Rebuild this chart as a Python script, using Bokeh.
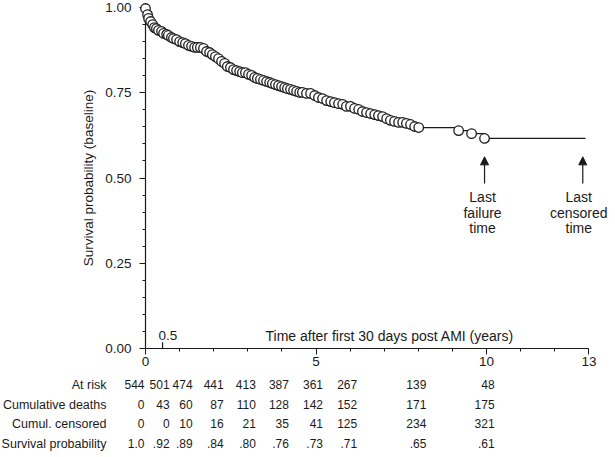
from bokeh.plotting import figure
from bokeh.models import (Range1d, FixedTicker, PrintfTickFormatter, Label,
                          ColumnDataSource, Arrow, NormalHead)
from bokeh.core.properties import value
from bokeh.embed import file_html
from bokeh.resources import INLINE

# ---------------- data ----------------
surv_t = [0.00, 0.06, 0.09, 0.15, 0.21, 0.26, 0.32, 0.38, 0.47, 0.53,
          0.62, 0.67, 0.76, 0.82, 0.91, 1.00, 1.09, 1.17, 1.26, 1.35,
          1.44, 1.52, 1.61, 1.70, 1.79, 1.88, 1.96, 2.05, 2.14, 2.23,
          2.32, 2.40, 2.49, 2.58, 2.67, 2.76, 2.84, 2.93, 3.02, 3.11,
          3.20, 3.28, 3.37, 3.46, 3.55, 3.64, 3.72, 3.81, 3.90, 3.99,
          4.08, 4.16, 4.25, 4.34, 4.43, 4.52, 4.60, 4.72, 4.84, 4.96,
          5.07, 5.19, 5.31, 5.43, 5.54, 5.66, 5.78, 5.89, 6.01, 6.13,
          6.25, 6.36, 6.48, 6.60, 6.72, 6.83, 6.95, 7.07, 7.18, 7.30,
          7.42, 7.54, 7.65, 7.77, 7.89, 8.01, 9.18, 9.56, 9.94]
surv_s = [0.997, 0.979, 0.968, 0.959, 0.950, 0.941, 0.938, 0.933, 0.930, 0.924,
          0.921, 0.918, 0.912, 0.909, 0.906, 0.900, 0.897, 0.894, 0.889, 0.886,
          0.883, 0.883, 0.883, 0.880, 0.871, 0.868, 0.862, 0.856, 0.850, 0.842,
          0.836, 0.827, 0.824, 0.818, 0.815, 0.812, 0.809, 0.809, 0.804, 0.801,
          0.795, 0.792, 0.789, 0.786, 0.783, 0.780, 0.777, 0.774, 0.771, 0.768,
          0.765, 0.762, 0.760, 0.757, 0.754, 0.751, 0.751, 0.748, 0.748, 0.742,
          0.736, 0.733, 0.727, 0.724, 0.721, 0.718, 0.716, 0.710, 0.710, 0.704,
          0.701, 0.695, 0.692, 0.689, 0.686, 0.683, 0.680, 0.674, 0.669, 0.666,
          0.663, 0.663, 0.660, 0.657, 0.651, 0.648, 0.639, 0.630, 0.616]
last_failure_time = 9.94
last_censored_time = 12.82
curve_end = 12.9

x_major = [0, 5, 10, 13]
x_minor = [1, 2, 3, 4, 6, 7, 8, 9, 11, 12]
y_major = [0.0, 0.25, 0.5, 0.75, 1.0]
y_minor = [0.05, 0.10, 0.15, 0.20, 0.30, 0.35, 0.40, 0.45,
           0.55, 0.60, 0.65, 0.70, 0.80, 0.85, 0.90, 0.95]
extra_tick = 0.5

table_times = [0, 0.5, 1, 2, 3, 4, 5, 6, 8, 10]
row_names = ["At risk", "Cumulative deaths", "Cumul. censored", "Survival probability"]
at_risk = [544, 501, 474, 441, 413, 387, 361, 267, 139, 48]
cum_deaths = [0, 43, 60, 87, 110, 128, 142, 152, 171, 175]
cum_censored = [0, 0, 10, 16, 21, 35, 41, 125, 234, 321]
surv_prob = ["1.0", ".92", ".89", ".84", ".80", ".76", ".73", ".71", ".65", ".61"]

# ---------------- style / layout ----------------
FONT = "Liberation Sans"
INK = "#1a1a1a"
col_nudge = [-1, 7, 13, 10, 8, 7, 7, 7, 8, 8]   # px, right edge of column vs tick
row_drop = [36, 56, 75, 95]                     # px below the x axis

p = figure(width=614, height=456, output_backend="svg", toolbar_location=None,
           x_range=Range1d(0, 13.75), y_range=Range1d(0, 1.0),
           min_border_left=145, min_border_right=0, min_border_top=7,
           min_border_bottom=108)
p.outline_line_color = None
p.grid.visible = False
p.background_fill_color = "white"

# axes
xa = p.xaxis[0]
xa.ticker = FixedTicker(ticks=x_major, minor_ticks=x_minor)
xa.bounds = (0, 13)
xa.major_tick_out = 6
xa.major_tick_in = 0
xa.minor_tick_out = 3
xa.minor_tick_in = 0
xa.major_label_standoff = 2
xa.major_label_text_font = FONT
xa.major_label_text_font_size = "13.5px"
xa.major_label_text_color = INK
xa.axis_line_color = INK
xa.major_tick_line_color = INK
xa.minor_tick_line_color = INK
xa.axis_line_width = 1.2

ya = p.yaxis[0]
ya.ticker = FixedTicker(ticks=y_major, minor_ticks=y_minor)
ya.bounds = (0, 1)
ya.formatter = PrintfTickFormatter(format="%.2f")
ya.major_tick_out = 6
ya.major_tick_in = 0
ya.minor_tick_out = 3
ya.minor_tick_in = 0
ya.major_label_standoff = 8
ya.major_label_text_font = FONT
ya.major_label_text_font_size = "13.5px"
ya.major_label_text_color = INK
ya.axis_label = "Survival probability (baseline)"
ya.axis_label_text_font = FONT
ya.axis_label_text_font_size = "13.5px"
ya.axis_label_text_font_style = "normal"
ya.axis_label_text_color = INK
ya.axis_label_standoff = 6
ya.axis_line_color = INK
ya.major_tick_line_color = INK
ya.minor_tick_line_color = INK
ya.axis_line_width = 1.2

# extra tick at 0.5 (pointing up) and its label
p.segment(x0=[extra_tick], y0=[0], x1=[extra_tick], y1=[0.018], line_color=INK, line_width=1.2)
p.add_layout(Label(x=extra_tick, y=0, text="0.5", x_offset=-4, y_offset=13,
                   text_align="left", text_baseline="middle", text_font=FONT,
                   text_font_size="13.5px", text_color=INK))
p.add_layout(Label(x=0, y=0, text="Time after first 30 days post AMI (years)",
                   x_offset=120, y_offset=13, text_align="left", text_baseline="middle",
                   text_font=FONT, text_font_size="14px", text_color=INK))

# survival curve
step_t = surv_t + [curve_end]
step_s = surv_s + [surv_s[-1]]
p.step(step_t, step_s, mode="after", line_color=INK, line_width=1.2)
r = p.scatter(surv_t, surv_s, marker="circle", size=9.5, fill_color="white",
              line_color=INK, line_width=1.3)
r.level = "overlay"

# arrows and notes
for tx, words, nudge in [(last_failure_time, ["Last", "failure", "time"], -2),
                         (last_censored_time, ["Last", "censored", "time"], -4)]:
    p.add_layout(Arrow(end=NormalHead(size=8, fill_color=INK, line_color=INK),
                       x_start=tx, y_start=0.484, x_end=tx, y_end=0.562,
                       line_color=INK, line_width=1.2))
    for k, w in enumerate(words):
        p.add_layout(Label(x=tx, y=0.484, text=w, x_offset=nudge, y_offset=-14 - 15.5 * k,
                           text_align="center", text_baseline="middle", text_font=FONT,
                           text_font_size="14px", text_color=INK))

# table under the axis (overlay-level text glyphs, positioned through the x scale)
xs, ys, txt, xo, yo = [], [], [], [], []
for ri, row in enumerate([at_risk, cum_deaths, cum_censored, surv_prob]):
    for ci, v in enumerate(row):
        xs.append(table_times[ci])
        ys.append(0)
        txt.append(str(v))
        xo.append(col_nudge[ci])
        yo.append(row_drop[ri])
tsrc = ColumnDataSource(dict(x=xs, y=ys, text=txt, xo=xo, yo=yo))
t1 = p.text(x="x", y="y", text="text", x_offset="xo", y_offset="yo", source=tsrc,
            text_align="right", text_baseline="middle", text_font=value(FONT),
            text_font_size="12px", text_color=INK)
t1.level = "overlay"
nsrc = ColumnDataSource(dict(x=[0] * 4, y=[0] * 4, text=row_names, yo=row_drop))
t2 = p.text(x="x", y="y", text="text", x_offset=-39, y_offset="yo", source=nsrc,
            text_align="right", text_baseline="middle", text_font=value(FONT),
            text_font_size="12.5px", text_color=INK)
t2.level = "overlay"

open("out.html", "w").write(file_html(p, INLINE))
